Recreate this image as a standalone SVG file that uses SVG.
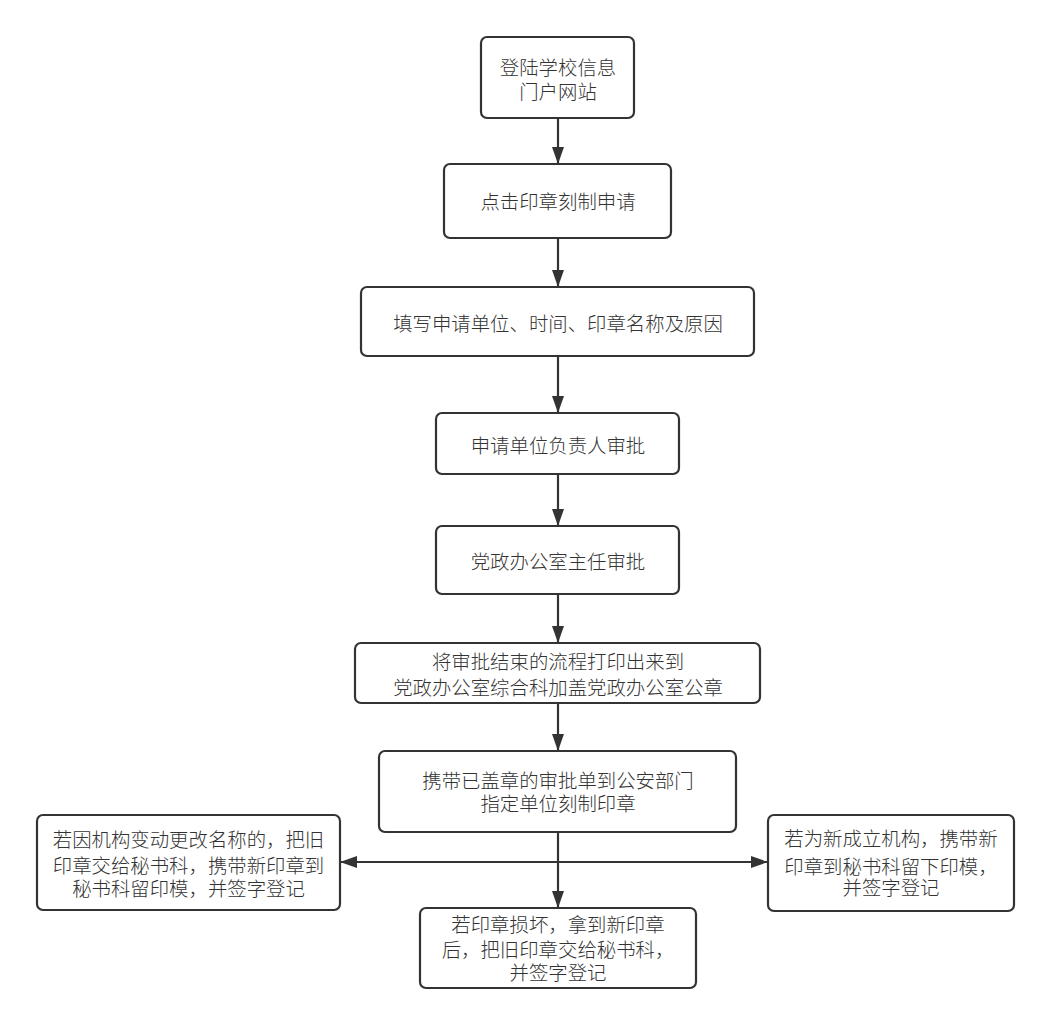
<svg xmlns="http://www.w3.org/2000/svg" width="1051" height="1026" viewBox="0 0 1051 1026">
<defs>
<style>
.box{fill:#fff;stroke:#333;stroke-width:2.2}
.t{font-family:"Noto Sans CJK SC","Noto Sans",sans-serif;font-size:19.4px;font-weight:300;fill:#333;text-anchor:middle}
.c{stroke:#333;stroke-width:2.2;fill:none}
</style>
<marker id="ah" viewBox="0 0 17 12" refX="16" refY="6" markerWidth="17" markerHeight="12" markerUnits="userSpaceOnUse" orient="auto">
<path d="M0,0 L17,6 L0,12 Z" fill="#333"/>
</marker>
</defs>
<rect width="1051" height="1026" fill="#fff"/>
<g id="connectors">
<line class="c" x1="558" y1="118" x2="558" y2="163" marker-end="url(#ah)"/>
<line class="c" x1="558" y1="238" x2="558" y2="286" marker-end="url(#ah)"/>
<line class="c" x1="558" y1="356" x2="558" y2="412" marker-end="url(#ah)"/>
<line class="c" x1="558" y1="474" x2="558" y2="525" marker-end="url(#ah)"/>
<line class="c" x1="558" y1="594" x2="558" y2="642" marker-end="url(#ah)"/>
<line class="c" x1="558" y1="703" x2="558" y2="750" marker-end="url(#ah)"/>
<line class="c" x1="558" y1="832" x2="558" y2="907" marker-end="url(#ah)"/>
<line class="c" x1="558" y1="862" x2="341" y2="862" marker-end="url(#ah)"/>
<line class="c" x1="558" y1="862" x2="767" y2="862" marker-end="url(#ah)"/>
</g>
<g id="n1"><rect class="box" x="481" y="37" width="153" height="81" rx="6"/><text class="t" x="558" y="75">登陆学校信息</text><text class="t" x="558" y="99">门户网站</text></g>
<g id="n2"><rect class="box" x="444" y="164" width="227" height="74" rx="6"/><text class="t" x="558" y="209">点击印章刻制申请</text></g>
<g id="n3"><rect class="box" x="361" y="287" width="393" height="69" rx="6"/><text class="t" x="558" y="331">填写申请单位、时间、印章名称及原因</text></g>
<g id="n4"><rect class="box" x="436" y="413" width="243" height="61" rx="6"/><text class="t" x="558" y="453">申请单位负责人审批</text></g>
<g id="n5"><rect class="box" x="436" y="526" width="243" height="68" rx="6"/><text class="t" x="558" y="569">党政办公室主任审批</text></g>
<g id="n6"><rect class="box" x="355" y="643" width="405" height="60" rx="6"/><text class="t" x="558" y="669">将审批结束的流程打印出来到</text><text class="t" x="558" y="695">党政办公室综合科加盖党政办公室公章</text></g>
<g id="n7"><rect class="box" x="379" y="751" width="357" height="81" rx="6"/><text class="t" x="558" y="788">携带已盖章的审批单到公安部门</text><text class="t" x="558" y="811">指定单位刻制印章</text></g>
<g id="n8"><rect class="box" x="37" y="815" width="303" height="95" rx="6"/><text class="t" x="188.5" y="847">若因机构变动更改名称的，把旧</text><text class="t" x="188.5" y="873">印章交给秘书科，携带新印章到</text><text class="t" x="188.5" y="896">秘书科留印模，并签字登记</text></g>
<g id="n9"><rect class="box" x="768" y="815" width="246" height="96" rx="6"/><text class="t" x="891" y="846">若为新成立机构，携带新</text><text class="t" x="891" y="874">印章到秘书科留下印模，</text><text class="t" x="891" y="895">并签字登记</text></g>
<g id="n10"><rect class="box" x="420" y="908" width="276" height="80" rx="6"/><text class="t" x="558" y="932">若印章损坏，拿到新印章</text><text class="t" x="558" y="957">后，把旧印章交给秘书科，</text><text class="t" x="558" y="980">并签字登记</text></g>
</svg>
